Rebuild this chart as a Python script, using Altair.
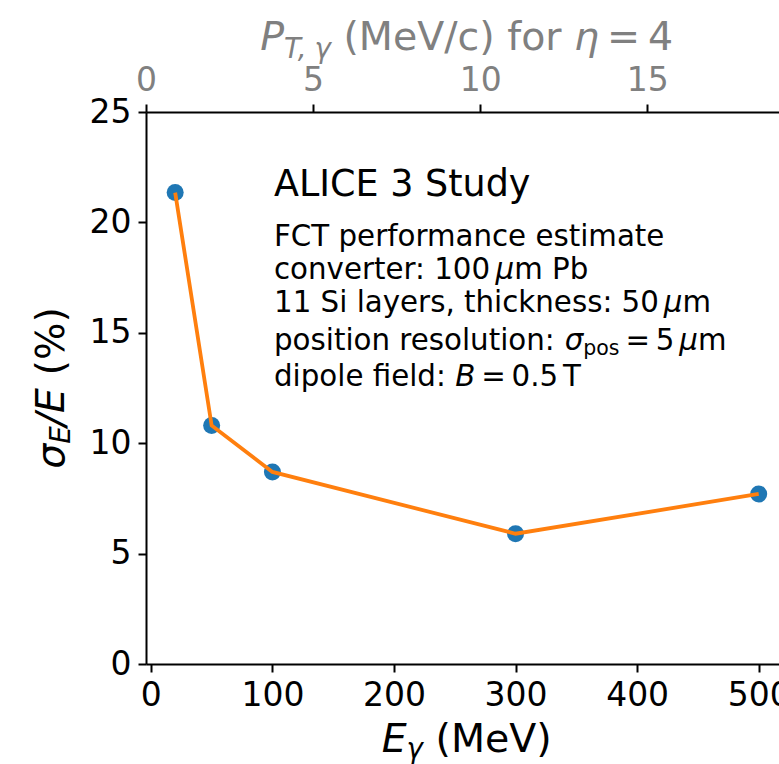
import altair as alt
import pandas as pd

# ---------------- data ----------------
energy = [20, 50, 100, 300, 500]            # E_gamma (MeV)
resolution = [21.35, 10.8, 8.7, 5.9, 7.7]   # sigma_E / E (%)
x_ticks = [0, 100, 200, 300, 400, 500]
y_ticks = [0, 5, 10, 15, 20, 25]
pt_ticks = [0, 5, 10, 15]                   # top axis P_T (MeV/c) for eta = 4

# ---------------- layout ----------------
PAD_L, PAD_T = 146, 112
W, H = 633, 552
FONT = "DejaVu Sans"
BLUE, ORANGE, GRAY = "#1f77b4", "#ff7f0e", "#808080"

df = pd.DataFrame({"E": energy, "res": resolution})
df_pt = pd.DataFrame({"pt": pt_ticks})
one = pd.DataFrame({"k": [0]})

x_scale = alt.Scale(domain=[-4, 516.7], nice=False, zero=False)
y_scale = alt.Scale(domain=[0, 25], nice=False)
pt_scale = alt.Scale(domain=[0, 18.94], nice=False, zero=False)

x_enc = alt.X("E:Q", scale=x_scale, axis=alt.Axis(values=x_ticks, title=None, orient="bottom", format="d"))
y_enc = alt.Y("res:Q", scale=y_scale, axis=alt.Axis(values=y_ticks, title=None, format="d"))

points = alt.Chart(df).mark_circle(size=290, color=BLUE, opacity=1).encode(x=x_enc, y=y_enc)
line = alt.Chart(df).mark_line(color=ORANGE, strokeWidth=3.8).encode(x=x_enc, y=y_enc)
main = alt.layer(points, line)

top = alt.Chart(df_pt).mark_point(opacity=0).encode(
    x=alt.X("pt:Q", scale=pt_scale,
            axis=alt.Axis(values=pt_ticks, title=None, orient="top", labelColor=GRAY, format="d")),
)

# ---------------- rich text helpers ----------------
EM = {" ": .318, "(": .390, ")": .390, ",": .318, ".": .318, ":": .337, "/": .337, "%": .950,
      "=": .838, "A": .684, "B": .686, "C": .698, "E": .632, "F": .575, "I": .295, "L": .557,
      "M": .863, "P": .603, "S": .635, "T": .611, "V": .684, "a": .613, "b": .635, "c": .550,
      "d": .635, "e": .615, "f": .352, "h": .634, "i": .278, "k": .579, "l": .278, "m": .974,
      "n": .634, "o": .612, "p": .635, "r": .411, "s": .521, "t": .392, "u": .634, "v": .592,
      "y": .592, "μ": .635, "σ": .634, "γ": .592, "η": .634}
for d in "0123456789":
    EM[d] = .636


def adv(s, size):
    return sum(EM.get(c, .6) for c in s) * size


def piece(txt, x, y, size, italic=False, color="black", angle=None):
    kw = dict(text=txt, align="left", baseline="alphabetic", font=FONT, fontSize=size, color=color)
    if italic:
        kw["fontStyle"] = "italic"
    if angle is not None:
        kw["angle"] = angle
    return alt.Chart(one).mark_text(**kw).encode(x=alt.value(x - PAD_L), y=alt.value(y - PAD_T))


def run_width(runs, size):
    w = 0
    for r in runs:
        if r[0] == "sp":
            w += r[1] * size
        else:
            w += adv(r[0], size * r[2])
    return w


def run_line(runs, x0, y0, size, color="black", vertical=False):
    layers = []
    pos = y0 if vertical else x0
    for r in runs:
        if r[0] == "sp":
            pos += (-1 if vertical else 1) * r[1] * size
            continue
        txt, it, sc, shift = r
        s = size * sc
        if vertical:
            layers.append(piece(txt, x0 + shift, pos, s, it, color, angle=270))
            pos -= adv(txt, s)
        else:
            layers.append(piece(txt, pos, y0 + shift, s, it, color))
            pos += adv(txt, s)
    return layers


N, I = False, True
SP = ("sp", .318)
LS = 29.3
texts = []
# annotation block
texts += run_line([("ALICE 3 Study", N, 1, 0)], 274, 196, 36.5)
texts += run_line([("FCT performance estimate", N, 1, 0)], 274, 246, LS)
texts += run_line([("converter: 100", N, 1, 0), ("sp", .1667), ("μ", I, 1, 0), ("m Pb", N, 1, 0)], 274, 279, LS)
texts += run_line([("11 Si layers, thickness: 50", N, 1, 0), ("sp", .1667), ("μ", I, 1, 0), ("m", N, 1, 0)], 274, 312, LS)
texts += run_line([("position resolution:", N, 1, 0), SP, ("σ", I, 1, 0), ("pos", N, .7, 5), ("sp", .2),
                   ("=", N, 1, 0), ("sp", .2), ("5", N, 1, 0), ("sp", .1667), ("μ", I, 1, 0), ("m", N, 1, 0)],
                  274, 350, LS)
texts += run_line([("dipole field:", N, 1, 0), SP, ("B", I, 1, 0), ("sp", .2), ("=", N, 1, 0), ("sp", .2),
                   ("0.5", N, 1, 0), ("sp", .1667), ("T", N, 1, 0)], 274, 386, LS)

# axis titles
TS = 39.5
xt = [("E", I, 1, 0), ("γ", I, .7, 6), SP, ("(MeV)", N, 1, 0)]
texts += run_line(xt, 466.7 - run_width(xt, TS) / 2, 752, TS)
tt = [("P", I, 1, 0), ("T,", I, .7, 8), ("sp", .12), ("γ", I, .7, 8), SP, ("(MeV/c) for", N, 1, 0), SP,
      ("η", I, 1, 0), ("sp", .2), ("=", N, 1, 0), ("sp", .2), ("4", N, 1, 0)]
texts += run_line(tt, 466.7 - run_width(tt, TS) / 2, 50, TS, color=GRAY)
yt = [("σ", I, 1, 0), ("E", I, .7, 6), ("/E", I, 1, 0), SP, ("(%)", N, 1, 0)]
texts += run_line(yt, 64, 388 + run_width(yt, TS) / 2, TS, vertical=True)

chart = alt.layer(main, top, *texts).resolve_scale(x="independent").properties(
    width=W, height=H,
    autosize="none",
    background="white",
    padding={"left": PAD_L, "top": PAD_T, "right": 0, "bottom": 764 - PAD_T - H},
).configure_view(stroke=None).configure_axis(
    grid=False,
    domainColor="black", domainWidth=2,
    tickColor="black", tickWidth=2, tickSize=8,
    labelFont=FONT, labelFontSize=33, labelColor="black", labelPadding=7,
    labelFlush=False, labelOverlap=False,
)

chart.save("out.html", embed_options={"renderer": "svg", "actions": False})
